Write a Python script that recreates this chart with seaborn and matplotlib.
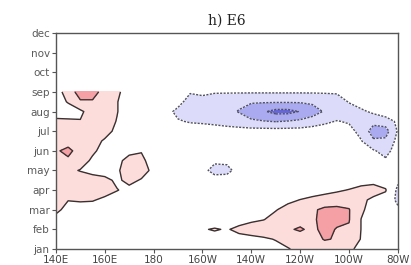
import numpy as np
import matplotlib
matplotlib.use("Agg")
import matplotlib.pyplot as plt
import seaborn as sns

# Longitudes (degrees east, 140E .. 80W) and months (1=jan)
lons = [140, 145, 150, 155, 160, 165, 170, 175, 180, 185, 190, 195, 200, 205, 210,
        215, 220, 225, 230, 235, 240, 245, 250, 255, 260, 265, 270, 275, 280]
months = [1.0, 1.5, 2.0, 2.5, 3.0, 3.5, 4.0, 4.5, 5.0, 5.5, 6.0, 6.5, 7.0, 7.5, 8.0, 8.5, 9.0]

# field values, one row per half month
r_1_0 = [0.2, 0.2, 0.2, 0.1, 0.1, 0.1, 0.0, 0.0, 0.0, 0.0, 0.0, 0.1, 0.2, 0.3, 0.3, 0.4, 0.5, 0.6, 0.7, 0.95, 1.2, 1.4, 1.6, 1.5, 1.2, 0.7, 0.4, 0.2, 0.0]
r_1_5 = [0.3, 0.3, 0.2, 0.2, 0.1, 0.1, 0.1, 0.0, 0.0, 0.0, 0.1, 0.2, 0.4, 0.5, 0.5, 0.6, 0.7, 0.85, 1.05, 1.3, 1.6, 1.7, 2.05, 1.95, 1.6, 0.95, 0.5, 0.3, 0.0]
r_2_0 = [0.5, 0.4, 0.3, 0.2, 0.2, 0.1, 0.1, 0.0, 0.0, 0.1, 0.2, 0.4, 0.9, 1.1, 0.9, 1.3, 1.5, 1.6, 1.7, 1.9, 2.1, 1.8, 2.25, 1.95, 1.9, 0.98, 0.5, 0.3, 0.0]
r_2_5 = [0.8, 0.6, 0.4, 0.3, 0.2, 0.2, 0.1, 0.0, 0.0, 0.0, 0.0, 0.1, 0.2, 0.3, 0.4, 0.5, 0.8, 0.97, 1.3, 1.5, 1.7, 1.85, 2.3, 2.2, 2.05, 0.98, 0.5, 0.3, 0.0]
r_3_0 = [1.15, 0.8, 0.6, 0.5, 0.4, 0.3, 0.2, 0.1, 0.0, 0.0, 0.0, 0.0, 0.0, 0.1, 0.2, 0.3, 0.4, 0.7, 0.95, 1.3, 1.6, 1.85, 2.2, 2.2, 2.05, 1.15, 0.6, 0.4, -0.6]
r_3_5 = [1.3, 1.02, 1.1, 1.08, 0.8, 0.5, 0.3, 0.1, 0.0, 0.0, 0.0, 0.0, 0.0, 0.0, 0.1, 0.2, 0.3, 0.4, 0.6, 0.8, 1.02, 1.2, 1.4, 1.6, 1.6, 1.2, 0.8, 0.5, -1.5]
r_4_0 = [1.6, 1.6, 1.6, 1.5, 1.4, 1.05, 0.7, 0.4, 0.1, 0.0, 0.0, 0.0, 0.0, -0.1, -0.1, 0.0, 0.1, 0.2, 0.3, 0.4, 0.5, 0.6, 0.7, 0.85, 1.05, 1.3, 1.4, 1.1, -1.4]
r_4_5 = [1.5, 1.5, 1.5, 1.4, 1.3, 0.8, 1.3, 0.9, 0.3, 0.1, 0.0, -0.1, -0.3, -0.5, -0.45, -0.2, 0.0, 0.0, 0.0, 0.0, 0.0, 0.1, 0.2, 0.3, 0.4, 0.6, 0.7, 0.4, -0.7]
r_5_0 = [1.3, 1.2, 0.95, 0.7, 0.5, 0.85, 1.5, 1.5, 0.7, 0.2, 0.0, -0.2, -0.65, -1.4, -1.35, -0.55, -0.2, -0.1, 0.0, 0.0, 0.0, 0.0, 0.0, 0.0, 0.0, -0.1, -0.2, -0.3, -0.2]
r_5_5 = [1.5, 1.8, 1.4, 0.85, 0.6, 0.8, 1.25, 1.2, 0.6, 0.2, 0.0, -0.2, -0.5, -0.8, -0.75, -0.3, -0.1, -0.1, -0.1, -0.1, -0.1, -0.1, -0.1, -0.1, -0.2, -0.3, -0.5, -0.85, -0.3]
r_6_0 = [1.85, 2.3, 1.5, 1.15, 0.7, 0.8, 0.8, 0.95, 0.5, 0.1, 0.0, -0.1, -0.1, -0.2, -0.2, -0.2, -0.2, -0.2, -0.2, -0.2, -0.2, -0.2, -0.2, -0.2, -0.3, -0.5, -0.9, -1.35, -0.5]
r_6_5 = [1.5, 1.5, 1.5, 1.3, 0.9, 0.5, 0.3, 0.2, 0.0, 0.0, -0.1, -0.2, -0.2, -0.3, -0.3, -0.3, -0.3, -0.3, -0.3, -0.3, -0.3, -0.3, -0.3, -0.3, -0.5, -0.95, -1.85, -1.8, -0.7]
r_7_0 = [1.4, 1.4, 1.4, 1.4, 1.3, 0.8, 0.3, 0.1, 0.0, -0.1, -0.3, -0.4, -0.5, -0.55, -0.6, -0.6, -0.6, -0.6, -0.6, -0.6, -0.6, -0.55, -0.5, -0.5, -0.7, -1.3, -2.45, -2.4, -0.9]
r_7_5 = [1.3, 1.2, 1.05, 1.5, 1.5, 0.95, 0.4, 0.1, 0.0, -0.2, -0.9, -1.1, -1.15, -1.25, -1.4, -1.6, -1.85, -1.95, -2.05, -1.95, -1.8, -1.5, -1.2, -0.95, -1.1, -1.2, -1.7, -1.5, -0.8]
r_8_0 = [0.3, 0.4, 0.8, 1.5, 1.6, 1.05, 0.4, 0.1, 0.0, -0.6, -1.3, -1.6, -1.7, -1.75, -1.8, -2.05, -2.5, -2.9, -3.3, -3.3, -2.95, -2.5, -1.9, -1.6, -1.4, -1.2, -0.8, -0.4, -0.2]
r_8_5 = [0.4, 1.1, 1.9, 1.9, 1.6, 1.05, 0.4, 0.1, 0.0, -0.3, -0.6, -1.5, -1.5, -1.6, -1.7, -1.8, -1.9, -1.9, -1.9, -1.9, -1.9, -1.8, -1.6, -1.4, -0.95, -0.5, -0.3, -0.1, 0.0]
r_9_0 = [0.5, 1.5, 2.4, 2.4, 1.6, 1.2, 0.5, 0.2, 0.0, -0.2, -0.5, -0.9, -0.7, -0.9, -0.9, -0.9, -0.9, -0.9, -0.9, -0.9, -0.9, -0.9, -0.9, -0.9, -0.6, -0.4, -0.2, -0.1, 0.0]

month_labels = ["jan", "feb", "mar", "apr", "may", "jun", "jul", "aug", "sep", "oct", "nov", "dec"]
lon_ticks = [140, 160, 180, 200, 220, 240, 260, 280]
lon_labels = ["140E", "160E", "180", "160W", "140W", "120W", "100W", "80W"]
title = "h) E6"

sns.set_theme(style="ticks")
plt.rcParams["font.family"] = ["DejaVu Sans"]

Z = np.array([r_1_0, r_1_5, r_2_0, r_2_5, r_3_0, r_3_5, r_4_0, r_4_5, r_5_0,
              r_5_5, r_6_0, r_6_5, r_7_0, r_7_5, r_8_0, r_8_5, r_9_0])
X, Y = np.meshgrid(lons, months)

fig = plt.figure(figsize=(4.11, 2.65), dpi=100)
ax = fig.add_axes([0.136, 0.0604, 0.832, 0.815])

fill_levels = [-10, -3, -2, -1, 1, 2, 3, 10]
fill_colors = ["#6666dc", "#aaaaf0", "#dcdcfa", "#ffffff", "#fddcdc", "#f4a0a4", "#e87070"]
ax.contourf(X, Y, Z, levels=fill_levels, colors=fill_colors)
ax.contour(X, Y, Z, levels=[1, 2], colors="#3a3030", linewidths=1.0, linestyles="solid")
ax.contour(X, Y, Z, levels=[-3, -2, -1], colors="#505060", linewidths=1.0,
           linestyles=[(0, (1.5, 1.0))])

ax.set_xlim(140, 280)
ax.set_ylim(1, 12)
ax.set_yticks(range(1, 13))
ax.set_yticklabels(month_labels)
ax.set_xticks(lon_ticks)
ax.set_xticklabels(lon_labels)
ax.tick_params(axis="both", direction="out", length=3, width=0.8, colors="#555555",
               labelsize=7.5, pad=1.5)
ax.tick_params(axis="x", labelcolor="#444444")
ax.tick_params(axis="y", labelcolor="#5a5a5a")
for s in ax.spines.values():
    s.set_visible(True)
    s.set_color("#555555")
    s.set_linewidth(1.0)
ax.set_xlabel("")
ax.set_ylabel("")
ax.set_title(title, fontsize=10, family="DejaVu Serif", color="#222222", pad=6)

fig.savefig("out.png", dpi=100)
